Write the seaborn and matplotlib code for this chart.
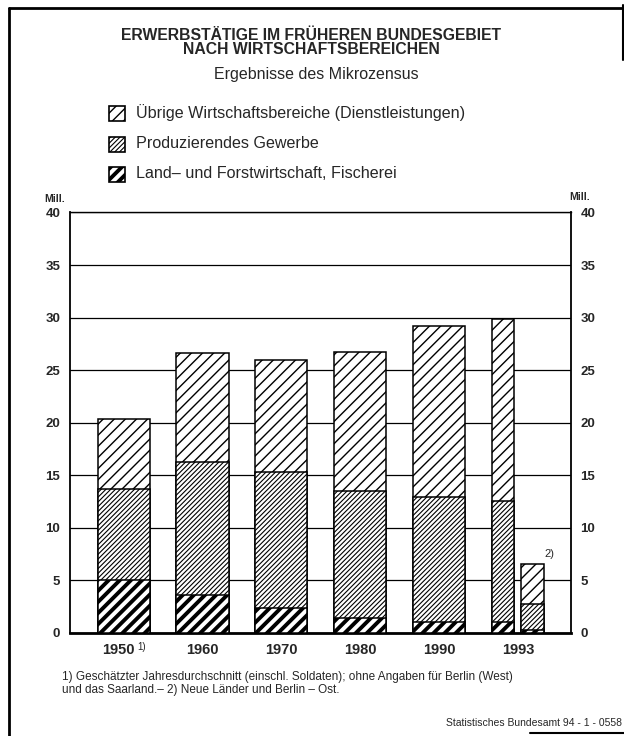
import matplotlib
matplotlib.use("Agg")
import matplotlib.pyplot as plt
from matplotlib.patches import Rectangle
from matplotlib.lines import Line2D
import numpy as np
import pandas as pd
import seaborn as sns

# Erwerbstätige in Mill. (früheres Bundesgebiet)
years = ["1950", "1960", "1970", "1980", "1990", "1993"]
land = [5.0, 3.6, 2.4, 1.4, 1.0, 1.0]
produz = [8.7, 12.7, 12.9, 12.1, 11.9, 11.6]
uebrige = [6.7, 10.3, 10.7, 13.2, 16.3, 17.3]
# 1993: Neue Länder und Berlin-Ost
ost_land = [0.25]
ost_produz = [2.55]
ost_uebrige = [3.8]

yticks = [0, 5, 10, 15, 20, 25, 30, 35, 40]

legend_labels = [
    "Übrige Wirtschaftsbereiche (Dienstleistungen)",
    "Produzierendes Gewerbe",
    "Land– und Forstwirtschaft, Fischerei",
]

west = pd.DataFrame({"jahr": years, "gebiet": "West", "land": land,
                     "produz": produz, "uebrige": uebrige})
ost = pd.DataFrame({"jahr": ["1993"], "gebiet": "Ost", "land": ost_land,
                    "produz": ost_produz, "uebrige": ost_uebrige})
df = pd.concat([west, ost], ignore_index=True)
df["bis_produz"] = df["land"] + df["produz"]
df["gesamt"] = df["bis_produz"] + df["uebrige"]

main = df[(df["gebiet"] == "West") & (df["jahr"] != "1993")]
pair = df[df["jahr"] == "1993"]

sns.set_style("white")
plt.rcParams["font.family"] = ["Liberation Sans", "DejaVu Sans"]

fig = plt.figure(figsize=(6.24, 7.36), dpi=100)
ax = fig.add_axes([0.1122, 0.140, 0.8024, 0.5713])

# stacked look: draw cumulative totals on top of each other
hatches = [("///", 1.0), ("///////", 0.8), ("///", 2.8)]
layers = ["gesamt", "bis_produz", "land"]
for z, (col, (hatch, hlw)) in enumerate(zip(layers, hatches)):
    n0 = len(ax.patches)
    sns.barplot(data=main, x="jahr", y=col, order=years, color="white",
                saturation=1, width=0.66, errorbar=None, edgecolor="black",
                linewidth=1.1, hatch=hatch, zorder=2 + z, ax=ax)
    sns.barplot(data=pair, x="jahr", y=col, hue="gebiet", hue_order=["West", "Ost"],
                order=years, palette=["white", "white"], saturation=1, width=0.74,
                gap=0.24, dodge=True, errorbar=None, edgecolor="black",
                linewidth=1.1, hatch=hatch, zorder=2 + z, legend=False, ax=ax)
    for p in ax.patches[n0:]:
        if hasattr(p, "set_hatch_linewidth"):
            p.set_hatch_linewidth(hlw)

ax.set_xlim(-0.68, 5.67)
ax.set_ylim(0, 40)
ax.set_yticks(yticks)
ax.set_yticklabels([str(t) for t in yticks], fontsize=9.5, fontweight="bold")
ax.set_xticks(range(len(years)))
# first label is drawn separately, with its footnote mark
ax.set_xticklabels([""] + years[1:], fontsize=10.5, fontweight="bold")
ax.set_xlabel("")
ax.set_ylabel("")
ax.yaxis.grid(True, color="black", linewidth=0.9)
ax.xaxis.grid(False)
ax.set_axisbelow(True)
ax.tick_params(axis="y", left=False, right=False, labelleft=True, labelright=True,
               length=0, pad=7)
ax.tick_params(axis="x", length=0, pad=7)
for side, lw in [("left", 1.3), ("right", 1.3), ("bottom", 2.0), ("top", 1.0)]:
    ax.spines[side].set_visible(True)
    ax.spines[side].set_color("black")
    ax.spines[side].set_linewidth(lw)

ax.annotate(years[0], xy=(0, 0), xycoords=("data", "axes fraction"),
            xytext=(-4, -7), textcoords="offset points", fontsize=10.5,
            fontweight="bold", ha="center", va="top")
ax.annotate("1)", xy=(0, 0), xycoords=("data", "axes fraction"),
            xytext=(9.5, -6.3), textcoords="offset points", fontsize=7,
            ha="left", va="top")

# footnote mark at the 1993 east bar
ax.text(5 + 0.40, pair["gesamt"].iloc[1] + 0.4, "2)", fontsize=8,
        ha="center", va="bottom")

# unit labels
fig.text(55 / 624, 1 - 199 / 736, "Mill.", fontsize=7.5, fontweight="bold",
         ha="center", va="center")
fig.text(580 / 624, 1 - 197 / 736, "Mill.", fontsize=7.5, fontweight="bold",
         ha="center", va="center")

# title
fig.text(311 / 624, 1 - 36 / 736, "ERWERBSTÄTIGE IM FRÜHEREN BUNDESGEBIET",
         fontsize=11.3, fontweight="bold", ha="center", va="center")
fig.text(311 / 624, 1 - 50 / 736, "NACH WIRTSCHAFTSBEREICHEN",
         fontsize=11.3, fontweight="bold", ha="center", va="center")
fig.text(316 / 624, 1 - 74 / 736, "Ergebnisse des Mikrozensus",
         fontsize=11.5, ha="center", va="center")

# legend
leg_rows = [113, 144, 174]
for yy, lab, (h, hlw) in zip(leg_rows, legend_labels, hatches):
    r = Rectangle((109 / 624, 1 - (yy + 8) / 736), 16 / 624, 15 / 736,
                  transform=fig.transFigure, facecolor="white", edgecolor="black",
                  linewidth=1.2, hatch=h)
    if hasattr(r, "set_hatch_linewidth"):
        r.set_hatch_linewidth(hlw)
    fig.add_artist(r)
    fig.text(136 / 624, 1 - yy / 736, lab, fontsize=11.6, ha="left", va="center")

# footnotes
fig.text(62 / 624, 1 - 677 / 736,
         "1) Geschätzter Jahresdurchschnitt (einschl. Soldaten); ohne Angaben für Berlin (West)",
         fontsize=8.5, ha="left", va="center")
fig.text(62 / 624, 1 - 690 / 736,
         "und das Saarland.– 2) Neue Länder und Berlin – Ost.",
         fontsize=8.5, ha="left", va="center")
fig.text(622 / 624, 1 - 723 / 736, "Statistisches Bundesamt 94 - 1 - 0558",
         fontsize=7.5, ha="right", va="center")

# outer frame
for xs, ys, lw in [([9, 9], [8, 736], 2.0), ([9, 624], [8, 8], 2.0),
                   ([623, 623], [5, 60], 1.5), ([530, 624], [733, 733], 1.5)]:
    fig.add_artist(Line2D([x / 624 for x in xs], [1 - y / 736 for y in ys],
                          transform=fig.transFigure, color="black", linewidth=lw))

fig.savefig("out.png", dpi=100)
